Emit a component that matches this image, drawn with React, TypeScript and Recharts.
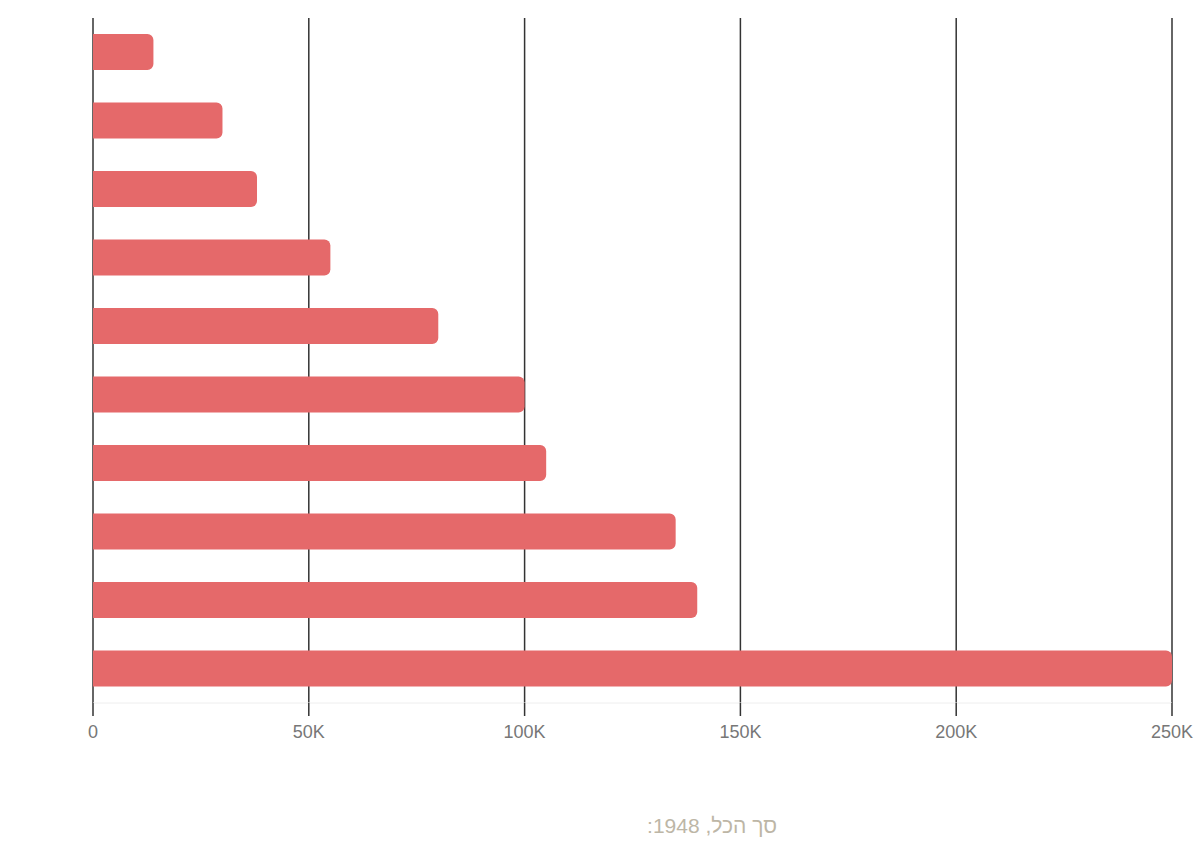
import { BarChart, Bar, XAxis, YAxis, CartesianGrid } from "recharts";

const categories = ["c1", "c2", "c3", "c4", "c5", "c6", "c7", "c8", "c9", "c10"];
const values = [14000, 30000, 38000, 55000, 80000, 100000, 105000, 135000, 140000, 250000];
const xTicks = [0, 50000, 100000, 150000, 200000, 250000];
const totalLabel = "סך הכל, 1948:";

const data = categories.map((name, i) => ({ name, value: values[i] }));

function formatTick(v: number): string {
  return v === 0 ? "0" : `${v / 1000}K`;
}

export default function App() {
  return (
    <div style={{ position: "absolute", left: 0, top: 0, width: 1200, height: 845, background: "#fff", fontFamily: "'Liberation Sans', Arial, sans-serif" }}>
      <BarChart
        width={1200}
        height={760}
        data={data}
        layout="vertical"
        margin={{ top: 18, right: 28, bottom: 17, left: 93 }}
        barSize={36}
      >
        <CartesianGrid horizontal={false} stroke="#333" strokeWidth={1.5} />
        <XAxis
          type="number"
          domain={[0, 250000]}
          ticks={xTicks}
          tickFormatter={formatTick}
          height={40}
          tickSize={13}
          tickMargin={9}
          axisLine={{ stroke: "#eee" }}
          tickLine={{ stroke: "#333", strokeWidth: 1.5 }}
          tick={{ fontSize: 18, fill: "#777" }}
          interval={0}
        />
        <YAxis type="category" dataKey="name" hide />
        <Bar dataKey="value" fill="#e5696a" radius={[0, 6, 6, 0]} isAnimationActive={false} />
      </BarChart>
      <div
        style={{
          position: "absolute",
          left: 512,
          top: 814,
          width: 400,
          textAlign: "center",
          direction: "rtl",
          fontSize: 21,
          color: "#bdb6a6",
        }}
      >
        {totalLabel}
      </div>
    </div>
  );
}
